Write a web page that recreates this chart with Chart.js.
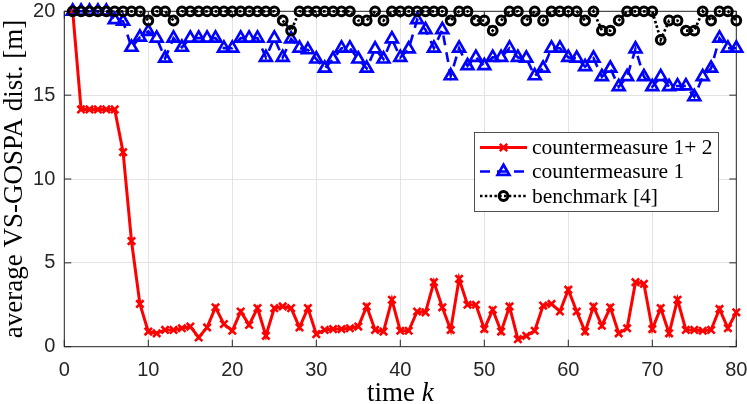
<!DOCTYPE html>
<html><head><meta charset="utf-8">
<script src="https://cdn.jsdelivr.net/npm/chart.js@4.4.1/dist/chart.umd.min.js"></script>
<style>html,body{margin:0;padding:0;background:#fff;}#wrap{width:747px;height:404px;}</style>
</head><body><div id="wrap"><canvas id="c" width="747" height="404"></canvas></div>
<script>
const timeK = [1,2,3,4,5,6,7,8,9,10,11,12,13,14,15,16,17,18,19,20,21,22,23,24,25,26,27,28,29,30,31,32,33,34,35,36,37,38,39,40,41,42,43,44,45,46,47,48,49,50,51,52,53,54,55,56,57,58,59,60,61,62,63,64,65,66,67,68,69,70,71,72,73,74,75,76,77,78,79,80];
const cm12 = [20,14.15,14.15,14.15,14.15,14.15,11.6,6.3,2.55,0.9,0.8,1.0,1.0,1.1,1.2,0.55,1.15,2.35,1.35,0.95,2.1,1.3,2.3,0.65,2.3,2.4,2.3,1.15,2.3,0.75,1.0,1.05,1.05,1.1,1.2,2.4,1.0,0.9,2.8,0.95,0.95,2.1,2.05,3.85,2.35,1.0,4.05,2.5,2.5,1.05,2.2,0.9,2.4,0.45,0.65,0.95,2.45,2.55,2.1,3.4,2.1,0.9,2.4,1.25,2.35,0.8,1.1,3.85,3.75,1.05,2.3,0.8,2.8,1.0,1.0,0.95,1.0,2.25,1.1,2.05];
const cm1 = [20,20,20,20,20,19.5,19.4,17.85,18.45,18.8,18.4,17.2,18.4,17.85,18.4,18.4,18.4,18.4,17.8,17.8,18.4,18.4,18.4,17.25,18.4,17.25,18.35,17.8,17.7,17.15,16.6,17.15,17.8,17.8,17.15,16.6,17.75,17.15,18.35,17.25,17.75,19.5,18.9,17.8,18.9,16.15,17.8,16.75,17.25,16.75,17.25,17.25,17.8,17.25,17.2,16.15,16.6,17.8,17.8,17.25,17.2,16.7,17.2,16.1,16.6,15.5,16.1,17.75,16.1,15.5,16.1,15.5,15.55,15.55,14.9,16.1,16.6,18.4,17.8,17.8];
const bench = [20,20,20,20,20,20,20,20,20,19.45,20,20,19.45,20,20,20,20,20,20,20,20,20,20,20,20,19.45,18.85,20,20,20,20,20,20,20,19.45,19.45,20,19.45,20,20,20,20,20,20,20,19.45,20,20,19.45,19.45,18.85,19.45,20,20,19.45,20,19.45,20,20,20,20,19.45,20,18.85,18.85,19.45,20,20,20,20,18.3,19.45,19.45,18.85,18.85,20,19.45,20,20,19.45];
const seriesNames = ['countermeasure 1+ 2','countermeasure 1','benchmark [4]'];
const xTicks = [0,10,20,30,40,50,60,70,80];
const yTicks = [0,5,10,15,20];
const xTitleMain = 'time ';
const xTitleVar = 'k';
const yTitle = 'average VS-GOSPA dist. [m]';

const pts = arr => timeK.map((k,i)=>({x:k,y:arr[i]}));
const AXC = '#262626';

const framePlugin = {
  id:'frame',
  beforeDatasetsDraw(chart){
    const {ctx, chartArea:a, scales:{x,y}} = chart;
    ctx.save();
    ctx.strokeStyle = AXC; ctx.lineWidth = 1;
    ctx.strokeRect(a.left, a.top, a.right-a.left, a.bottom-a.top);
    const L = 7;
    ctx.beginPath();
    xTicks.forEach(v=>{const px=x.getPixelForValue(v);
      ctx.moveTo(px,a.bottom);ctx.lineTo(px,a.bottom-L);
      ctx.moveTo(px,a.top);ctx.lineTo(px,a.top+L);});
    yTicks.forEach(v=>{const py=y.getPixelForValue(v);
      ctx.moveTo(a.left,py);ctx.lineTo(a.left+L,py);
      ctx.moveTo(a.right,py);ctx.lineTo(a.right-L,py);});
    ctx.stroke();
    ctx.restore();
  },
  afterDraw(chart){
    const {ctx, chartArea:a} = chart;
    ctx.save();
    // x title
    ctx.fillStyle = '#000';
    ctx.textBaseline = 'alphabetic';
    const f1 = '27px "Liberation Serif"', f2 = 'italic 27px "Liberation Serif"';
    ctx.font = f1; const w1 = ctx.measureText(xTitleMain).width;
    ctx.font = f2; const w2 = ctx.measureText(xTitleVar).width;
    const cx = (a.left+a.right)/2, by = 401;
    let sx = cx - (w1+w2)/2;
    ctx.font = f1; ctx.textAlign='left'; ctx.fillText(xTitleMain, sx, by);
    ctx.font = f2; ctx.fillText(xTitleVar, sx+w1, by);
    // legend
    const bx=474.5, byy=132.5, bw=244, bh=79;
    ctx.fillStyle='#fff'; ctx.fillRect(bx,byy,bw,bh);
    ctx.strokeStyle=AXC; ctx.lineWidth=0.8; ctx.strokeRect(bx,byy,bw,bh);
    const rows=[147.5,171.5,196];
    chart.data.datasets.forEach((ds,i)=>{
      const yy=rows[i];
      ctx.save();
      ctx.strokeStyle=ds.borderColor; ctx.lineWidth=ds.borderWidth;
      ctx.setLineDash(ds.borderDash||[]);
      ctx.beginPath(); ctx.moveTo(480,yy); ctx.lineTo(527,yy); ctx.stroke();
      ctx.setLineDash([]);
      ctx.strokeStyle=ds.pointBorderColor; ctx.fillStyle=ds.pointBackgroundColor;
      ctx.lineWidth=ds.pointBorderWidth;
      Chart.helpers.drawPoint(ctx,{pointStyle:ds.pointStyle,radius:ds.pointRadius,borderWidth:ds.pointBorderWidth,rotation:0},503.5,yy);
      ctx.restore();
      ctx.fillStyle='#000'; ctx.font='21.5px "Liberation Serif"'; ctx.textAlign='left'; ctx.textBaseline='middle';
      ctx.fillText(ds.label, 532, yy+1);
    });
    ctx.restore();
  }
};

new Chart(document.getElementById('c'), {
  type:'line',
  data:{datasets:[
    {label:seriesNames[0], data:pts(cm12), borderColor:'#ff0000', borderWidth:3, pointStyle:'crossRot', pointRadius:5.2, pointBorderWidth:2.6, pointBorderColor:'#ff0000', pointBackgroundColor:'#ff0000', order:3, clip:false},
    {label:seriesNames[1], data:pts(cm1), borderColor:'#0000ff', borderWidth:2.6, borderDash:[10,7], pointStyle:'triangle', pointRadius:6.8, pointBorderWidth:2.7, pointBorderColor:'#0000ff', pointBackgroundColor:'rgba(255,255,255,0)', order:2, clip:false},
    {label:seriesNames[2], data:pts(bench), borderColor:'#000000', borderWidth:2.7, borderDash:[2.5,2.3], pointStyle:'circle', pointRadius:4.4, pointBorderWidth:3, pointBorderColor:'#000000', pointBackgroundColor:'rgba(255,255,255,0)', order:1, clip:false}
  ]},
  options:{
    responsive:false, animation:false, devicePixelRatio:1,
    layout:{padding:{left:0,top:11.3,right:10.7,bottom:0}},
    plugins:{legend:{display:false}, tooltip:{enabled:false}},
    elements:{line:{tension:0, borderCapStyle:'butt'}},
    scales:{
      x:{type:'linear', min:0, max:80,
        afterBuildTicks:s=>{s.ticks = xTicks.map(v=>({value:v}));},
        ticks:{font:{family:'Liberation Sans', size:20}, color:AXC, padding:11.5, maxRotation:0},
        grid:{color:'#e3e3e3', lineWidth:1, drawTicks:false},
        border:{display:false},
        afterFit:s=>{s.height=57.3; s.paddingLeft=0; s.paddingRight=0;}
      },
      y:{type:'linear', min:0, max:20,
        afterBuildTicks:s=>{s.ticks = yTicks.map(v=>({value:v}));},
        ticks:{font:{family:'Liberation Sans', size:20}, color:AXC, padding:9},
        grid:{color:'#e3e3e3', lineWidth:1, drawTicks:false},
        border:{display:false},
        title:{display:true, text:yTitle, color:'#000', font:{family:'Liberation Serif', size:27, lineHeight:1.1}, padding:0},
        afterFit:s=>{s.width=64.3; s.paddingTop=0; s.paddingBottom=0;}
      }
    }
  },
  plugins:[framePlugin]
});
</script></body></html>
